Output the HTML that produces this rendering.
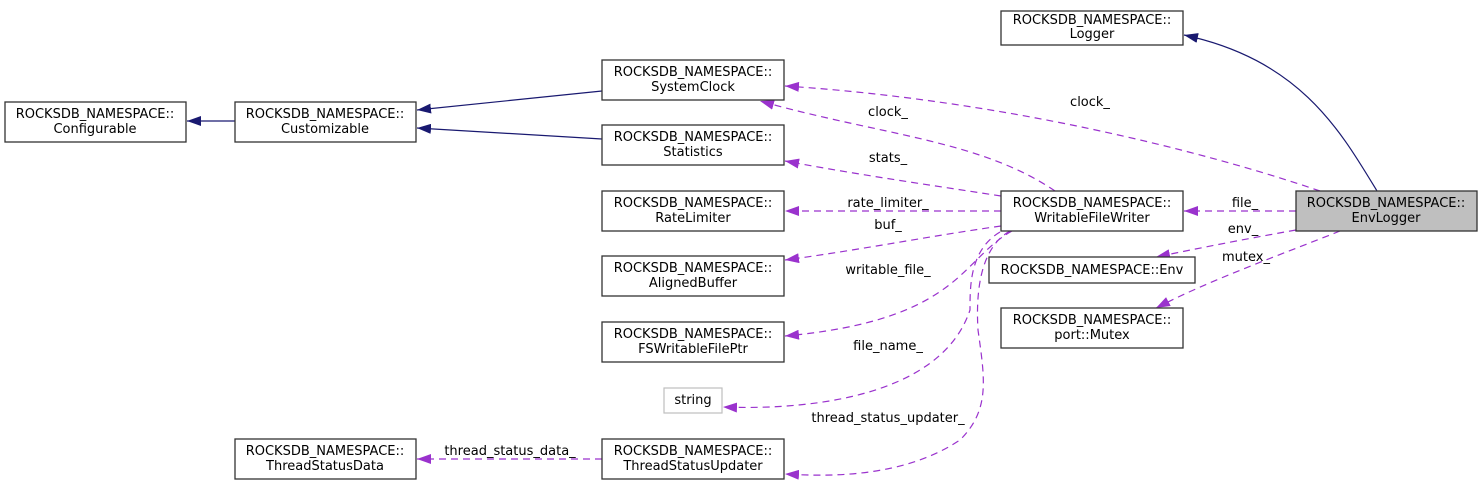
<!DOCTYPE html>
<html><head><meta charset="utf-8"><style>
html,body{margin:0;padding:0;background:#fff;}
svg{display:block;}
text{font-family:"DejaVu Sans","Liberation Sans",sans-serif;font-size:13px;fill:#000;}
.n{fill:#fff;stroke:#333;stroke-width:1.3;}
.d{fill:none;stroke:#9a32cd;stroke-width:1.2;stroke-dasharray:7,5;}
.s{fill:none;stroke:#191970;stroke-width:1.2;}
</style></head><body>
<svg width="1483" height="485" viewBox="0 0 1483 485" xmlns="http://www.w3.org/2000/svg">
<defs>
<marker id="p" markerWidth="14" markerHeight="10" refX="14" refY="5" orient="auto" markerUnits="userSpaceOnUse"><path d="M0,0 L14,5 L0,10 Z" fill="#9a32cd"/></marker>
<marker id="b" markerWidth="14" markerHeight="10" refX="14" refY="5" orient="auto" markerUnits="userSpaceOnUse"><path d="M0,0 L14,5 L0,10 Z" fill="#191970"/></marker>
</defs>
<!-- solid edges -->
<path class="s" d="M235,121 L187,121" marker-end="url(#b)"/>
<path class="s" d="M602,91 L417,110" marker-end="url(#b)"/>
<path class="s" d="M602,139 L417,128" marker-end="url(#b)"/>
<path class="s" d="M1377,191 C1340,130 1300,60 1184,35" marker-end="url(#b)"/>
<!-- dashed edges -->
<path class="d" d="M1320,191 C1200,150 1000,100 785,86" marker-end="url(#p)"/>
<path class="d" d="M1055,191 C980,140 880,135 760,101" marker-end="url(#p)"/>
<path class="d" d="M1001,196 C930,185 860,175 785,161" marker-end="url(#p)"/>
<path class="d" d="M1001,211 L785,211" marker-end="url(#p)"/>
<path class="d" d="M1001,226 C930,236 860,250 785,260" marker-end="url(#p)"/>
<path class="d" d="M1012,231 C960,260 960,320 785,336" marker-end="url(#p)"/>
<path class="d" d="M1000,232 C970,250 970,285 970,310 C940,400 800,410 723,407" marker-end="url(#p)"/>
<path class="d" d="M1010,231 C985,245 975,280 978,330 C985,380 990,410 960,440 C900,480 820,476 785,474" marker-end="url(#p)"/>
<path class="d" d="M602,459 L417,459" marker-end="url(#p)"/>
<path class="d" d="M1296,211 L1184,211" marker-end="url(#p)"/>
<path class="d" d="M1296,230 C1240,240 1200,248 1156,257" marker-end="url(#p)"/>
<path class="d" d="M1340,231 C1280,255 1210,280 1156,308" marker-end="url(#p)"/>
<!-- labels -->
<text x="1090" y="106" text-anchor="middle">clock_</text>
<text x="888" y="116" text-anchor="middle">clock_</text>
<text x="888" y="162" text-anchor="middle">stats_</text>
<text x="888" y="207" text-anchor="middle">rate_limiter_</text>
<text x="888" y="229" text-anchor="middle">buf_</text>
<text x="888" y="274" text-anchor="middle">writable_file_</text>
<text x="888" y="350" text-anchor="middle">file_name_</text>
<text x="888" y="422" text-anchor="middle">thread_status_updater_</text>
<text x="510" y="455" text-anchor="middle">thread_status_data_</text>
<text x="1245" y="207" text-anchor="middle">file_</text>
<text x="1243" y="233" text-anchor="middle">env_</text>
<text x="1246" y="261" text-anchor="middle">mutex_</text>
<!-- nodes -->
<rect class="n" x="1001" y="11" width="182" height="34"/><text x="1092" y="24" text-anchor="middle">ROCKSDB_NAMESPACE::</text><text x="1092" y="38" text-anchor="middle">Logger</text>
<rect class="n" x="5" y="102" width="181" height="40"/><text x="95" y="118" text-anchor="middle">ROCKSDB_NAMESPACE::</text><text x="95" y="133" text-anchor="middle">Configurable</text>
<rect class="n" x="235" y="102" width="181" height="40"/><text x="325" y="118" text-anchor="middle">ROCKSDB_NAMESPACE::</text><text x="325" y="133" text-anchor="middle">Customizable</text>
<rect class="n" x="602" y="60" width="182" height="40"/><text x="693" y="76" text-anchor="middle">ROCKSDB_NAMESPACE::</text><text x="693" y="91" text-anchor="middle">SystemClock</text>
<rect class="n" x="602" y="125" width="182" height="40"/><text x="693" y="141" text-anchor="middle">ROCKSDB_NAMESPACE::</text><text x="693" y="156" text-anchor="middle">Statistics</text>
<rect class="n" x="602" y="191" width="182" height="40"/><text x="693" y="207" text-anchor="middle">ROCKSDB_NAMESPACE::</text><text x="693" y="222" text-anchor="middle">RateLimiter</text>
<rect class="n" x="602" y="256" width="182" height="40"/><text x="693" y="272" text-anchor="middle">ROCKSDB_NAMESPACE::</text><text x="693" y="287" text-anchor="middle">AlignedBuffer</text>
<rect class="n" x="602" y="322" width="182" height="40"/><text x="693" y="338" text-anchor="middle">ROCKSDB_NAMESPACE::</text><text x="693" y="353" text-anchor="middle">FSWritableFilePtr</text>
<rect x="664" y="388" width="58" height="25" fill="#fff" stroke="#bfbfbf" stroke-width="1.2"/><text x="693" y="404" text-anchor="middle">string</text>
<rect class="n" x="602" y="439" width="182" height="40"/><text x="693" y="455" text-anchor="middle">ROCKSDB_NAMESPACE::</text><text x="693" y="470" text-anchor="middle">ThreadStatusUpdater</text>
<rect class="n" x="235" y="439" width="181" height="40"/><text x="325" y="455" text-anchor="middle">ROCKSDB_NAMESPACE::</text><text x="325" y="470" text-anchor="middle">ThreadStatusData</text>
<rect class="n" x="1001" y="191" width="182" height="40"/><text x="1092" y="207" text-anchor="middle">ROCKSDB_NAMESPACE::</text><text x="1092" y="222" text-anchor="middle">WritableFileWriter</text>
<rect class="n" x="989" y="257" width="206" height="26"/><text x="1092" y="274" text-anchor="middle">ROCKSDB_NAMESPACE::Env</text>
<rect class="n" x="1001" y="308" width="182" height="40"/><text x="1092" y="324" text-anchor="middle">ROCKSDB_NAMESPACE::</text><text x="1092" y="339" text-anchor="middle">port::Mutex</text>
<rect x="1296" y="191" width="181" height="40" fill="#bfbfbf" stroke="#333" stroke-width="1.3"/><text x="1386" y="207" text-anchor="middle">ROCKSDB_NAMESPACE::</text><text x="1386" y="222" text-anchor="middle">EnvLogger</text>
</svg>
</body></html>
